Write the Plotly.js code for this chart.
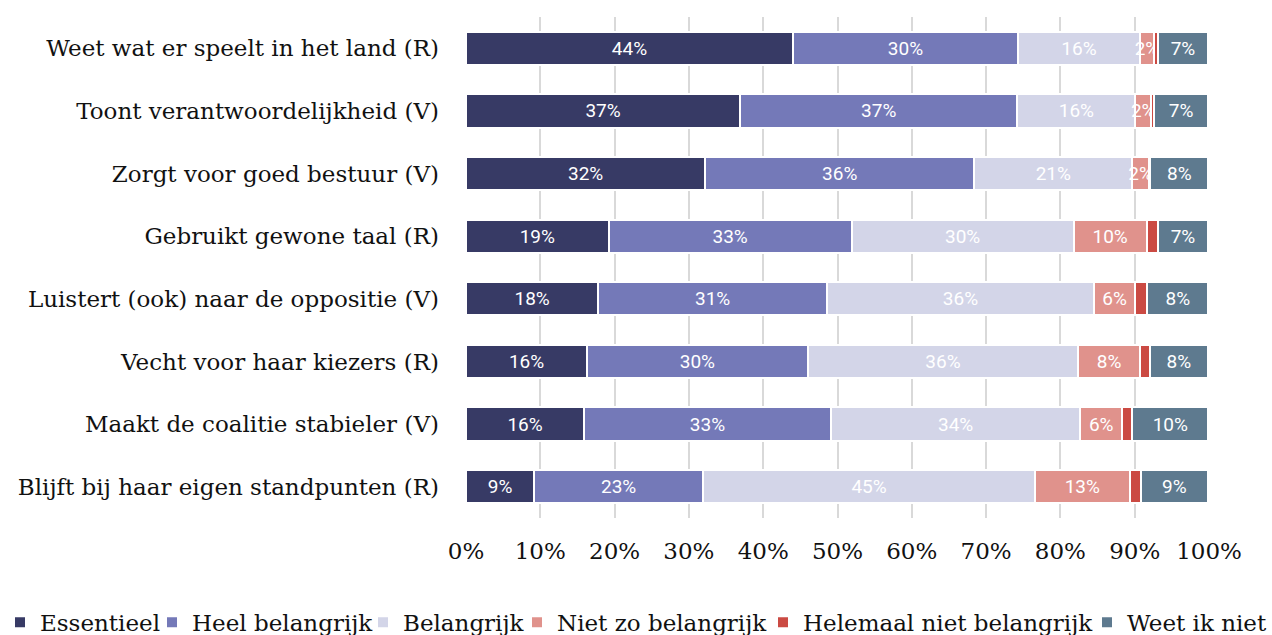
<!DOCTYPE html>
<html>
<head>
<meta charset="utf-8">
<script src="https://cdn.plot.ly/plotly-3.0.1.min.js"></script>
<style>
html,body{margin:0;padding:0;background:#fff;}
#chart{width:1272px;height:635px;}
</style>
</head>
<body>
<div id="chart"></div>
<script>
const categories = [
  "Weet wat er speelt in het land (R)",
  "Toont verantwoordelijkheid (V)",
  "Zorgt voor goed bestuur (V)",
  "Gebruikt gewone taal (R)",
  "Luistert (ook) naar de oppositie (V)",
  "Vecht voor haar kiezers (R)",
  "Maakt de coalitie stabieler (V)",
  "Blijft bij haar eigen standpunten (R)"
];
const seriesNames = ["Essentieel","Heel belangrijk","Belangrijk","Niet zo belangrijk","Helemaal niet belangrijk","Weet ik niet"];
const essentieel     = [44.0, 36.9, 32.2, 19.2, 17.8, 16.3, 15.9, 9.2];
const heelBelangrijk = [30.3, 37.3, 36.2, 32.7, 30.8, 29.7, 33.2, 22.7];
const belangrijk     = [16.4, 15.9, 21.3, 29.9, 35.9, 36.4, 33.6, 44.7];
const nietZo         = [1.9, 2.1, 2.2, 9.8, 5.6, 8.3, 5.6, 12.7];
const helemaalNiet   = [0.5, 0.4, 0.2, 1.5, 1.6, 1.3, 1.4, 1.5];
const weetIkNiet     = [6.8, 7.3, 7.8, 6.8, 8.2, 7.9, 10.2, 9.1];
const xTicks = [0,10,20,30,40,50,60,70,80,90,100];

const seriesValues = [essentieel, heelBelangrijk, belangrijk, nietZo, helemaalNiet, weetIkNiet];
const colors = ["#373a65","#7479b8","#d3d5e8","#e0928c","#cb4a43","#5e7a8f"];
const showText = [true,true,true,true,false,true];
const legendIds = ['legend','legend2','legend3','legend4','legend5','legend6'];
const legendTextStart = [32, 192, 403, 557, 803, 1127];

const SERIF = '"DejaVu Serif", serif';
const W = 1272, ML = 466, MR = 63;
const plotW = W - ML - MR;

const traces = seriesValues.map((vals, i) => ({
  type: 'bar',
  orientation: 'h',
  name: seriesNames[i],
  legend: legendIds[i],
  y: categories,
  x: vals,
  marker: {color: colors[i], line: {color: '#ffffff', width: 2}},
  texttemplate: showText[i] ? '%{x:.0f}%' : '',
  textposition: 'inside',
  insidetextanchor: 'middle',
  constraintext: 'none',
  textangle: 0,
  insidetextfont: {family: 'Roboto, sans-serif', size: 19, color: '#ffffff'},
  hoverinfo: 'name+x'
}));

const layout = {
  width: W,
  height: 635,
  barmode: 'stack',
  bargap: 0.47,
  margin: {l: ML, r: MR, t: 17, b: 117},
  paper_bgcolor: '#ffffff',
  plot_bgcolor: '#ffffff',
  font: {family: SERIF, color: '#111111'},
  showlegend: true,
  xaxis: {
    range: [0, 100],
    tickvals: xTicks,
    ticktext: xTicks.map(v => v + '%'),
    showgrid: true,
    gridcolor: '#d9d9d9',
    gridwidth: 2,
    zeroline: false,
    showline: false,
    ticks: '',
    ticklabelstandoff: 17,
    tickfont: {family: SERIF, size: 23, color: '#111111'},
    fixedrange: true
  },
  yaxis: {
    type: 'category',
    categoryorder: 'array',
    categoryarray: categories,
    range: [7.5, -0.5],
    autorange: false,
    showgrid: false,
    zeroline: false,
    showline: false,
    ticks: '',
    ticklabelstandoff: 26,
    tickfont: {family: SERIF, size: 23, color: '#111111'},
    fixedrange: true
  }
};

legendIds.forEach((id, i) => {
  layout[id] = {
    orientation: 'h',
    xref: 'paper', yref: 'container',
    x: (legendTextStart[i] - 40 - ML) / plotW, xanchor: 'left',
    y: 0.02, yanchor: 'middle',
    bgcolor: 'rgba(0,0,0,0)',
    borderwidth: 0,
    font: {family: SERIF, size: 23, color: '#111111'},
    itemwidth: 30,
    itemclick: false
  };
});

Plotly.newPlot('chart', traces, layout, {displayModeBar: false, staticPlot: true});
</script>
</body>
</html>
